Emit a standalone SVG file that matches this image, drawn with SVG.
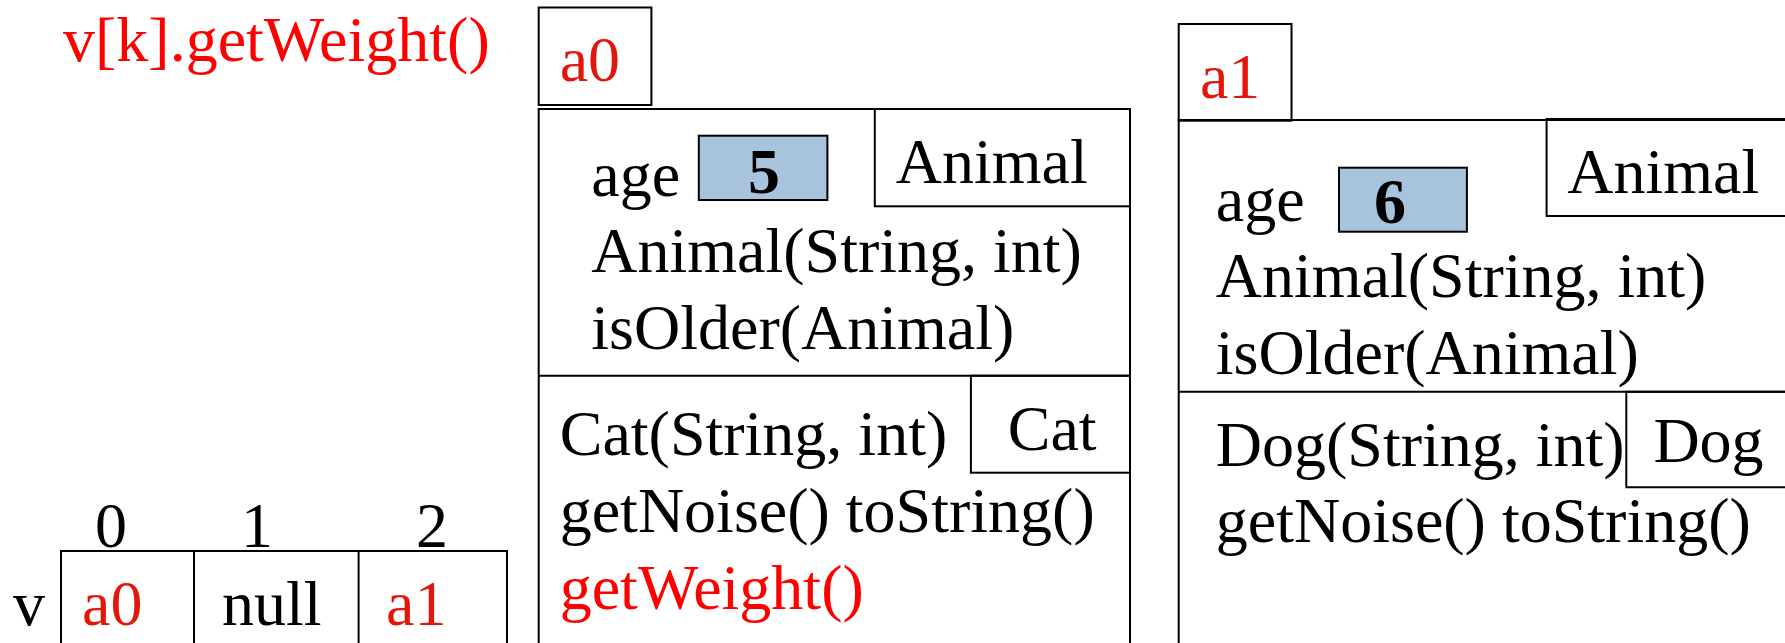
<svg xmlns="http://www.w3.org/2000/svg" width="1785" height="643" viewBox="0 0 1785 643">
  <style>
    text { font-family: "Liberation Serif", "Times New Roman", serif; font-size: 64px; fill: #000; }
    .ref { fill: #e2170c; }
    .call { fill: #ff0000; }
    .val { font-weight: bold; text-anchor: middle; }
    .mid { text-anchor: middle; }
    .box { fill: none; stroke: #000; stroke-width: 2; }
    .field { fill: #a7c4dc; stroke: #000; stroke-width: 2; }
    .line { stroke: #000; stroke-width: 2; fill: none; }
  </style>

  <!-- method call being evaluated -->
  <g id="call">
    <text x="63" y="61" class="call">v[k].getWeight()</text>
  </g>

  <!-- array v -->
  <g id="array-v">
    <text x="111" y="547" class="mid">0</text>
    <text x="257" y="547" class="mid">1</text>
    <text x="432" y="547" class="mid">2</text>
    <rect x="61" y="551" width="446" height="110" class="box"/>
    <line x1="194" y1="551" x2="194" y2="661" class="line"/>
    <line x1="358.6" y1="551" x2="358.6" y2="661" class="line"/>
    <text x="13" y="625">v</text>
    <text x="82" y="625" class="ref">a0</text>
    <text x="222" y="625">null</text>
    <text x="386" y="625" class="ref">a1</text>
  </g>

  <!-- object a0 : Cat -->
  <g id="obj-a0">
    <rect x="538.7" y="7.5" width="112.7" height="97.5" class="box"/>
    <text x="559.7" y="81" class="ref">a0</text>
    <path d="M538.7,660 V109 H1130 V660" class="line"/>
    <rect x="874.8" y="109" width="255.2" height="97.3" class="box"/>
    <text x="895.8" y="183">Animal</text>
    <text x="591.3" y="196">age</text>
    <rect x="698.8" y="135.7" width="128.6" height="64.3" class="field"/>
    <text x="764" y="193" class="val">5</text>
    <text x="591.3" y="272">Animal(String, int)</text>
    <text x="591.3" y="348.5">isOlder(Animal)</text>
    <line x1="538.7" y1="375.7" x2="1130" y2="375.7" class="line"/>
    <rect x="970.9" y="375.7" width="159.1" height="97" class="box"/>
    <text x="1007.7" y="449.5">Cat</text>
    <text x="559.7" y="455">Cat(String, int)</text>
    <text x="559.7" y="532">getNoise() toString()</text>
    <text x="559.7" y="608.5" class="call">getWeight()</text>
  </g>

  <!-- object a1 : Dog -->
  <g id="obj-a1">
    <rect x="1178.7" y="24" width="112.8" height="96.7" class="box"/>
    <text x="1199.9" y="97.5" class="ref">a1</text>
    <path d="M1178.7,660 V120 H1800" class="line"/>
    <path d="M1800,119 H1546.6 V216 H1800" class="line"/>
    <text x="1567.3" y="192.5">Animal</text>
    <text x="1215.8" y="221">age</text>
    <rect x="1339" y="167.7" width="127.9" height="64" class="field"/>
    <text x="1390" y="223" class="val">6</text>
    <text x="1215.8" y="297">Animal(String, int)</text>
    <text x="1215.8" y="373.5">isOlder(Animal)</text>
    <line x1="1178.7" y1="391.7" x2="1800" y2="391.7" class="line"/>
    <path d="M1800,391.7 H1626.3 V487.3 H1800" class="line"/>
    <text x="1653.4" y="462">Dog</text>
    <text x="1215.8" y="466">Dog(String, int)</text>
    <text x="1215.8" y="542">getNoise() toString()</text>
  </g>
</svg>
